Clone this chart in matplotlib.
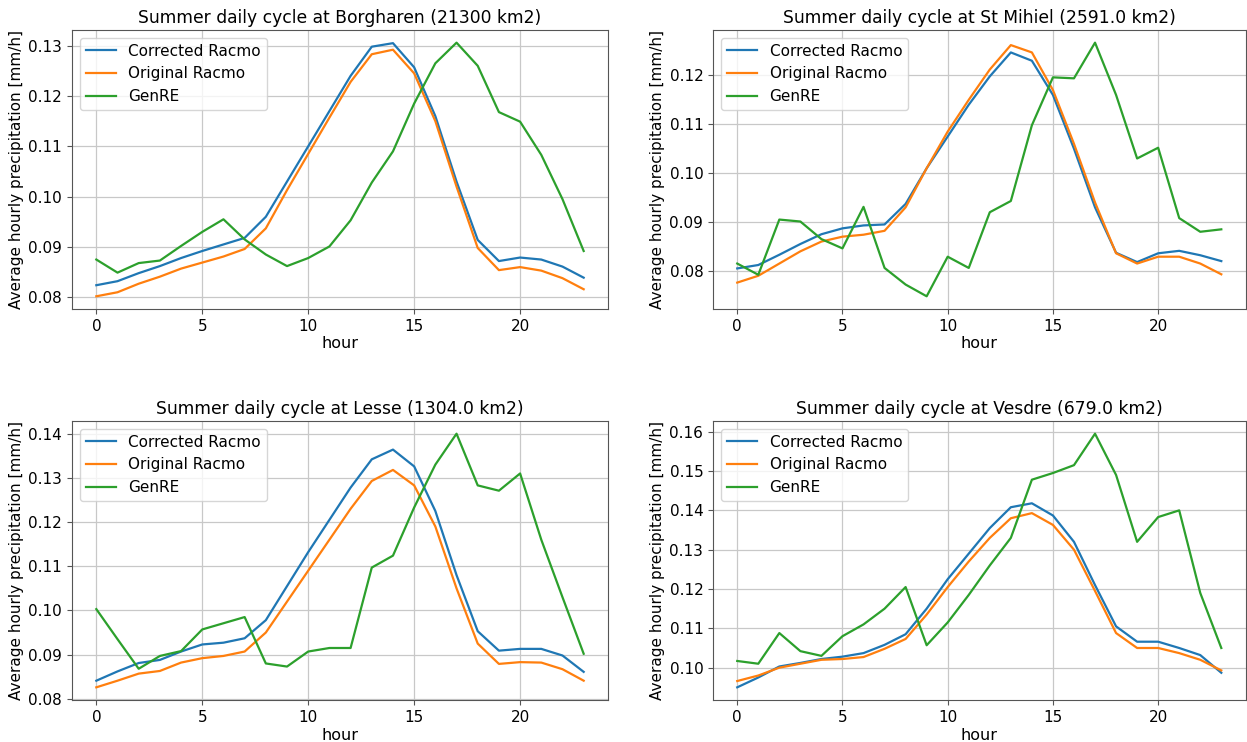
import matplotlib
matplotlib.use("Agg")
import matplotlib.pyplot as plt
import numpy as np

# -------------------------------
# Data
# -------------------------------
hours = np.arange(24)

titles = [
    "Summer daily cycle at Borgharen (21300 km2)",
    "Summer daily cycle at St Mihiel (2591.0 km2)",
    "Summer daily cycle at Lesse (1304.0 km2)",
    "Summer daily cycle at Vesdre (679.0 km2)",
]

borgharen_corrected = [0.0824, 0.0832, 0.0848, 0.0862, 0.0878, 0.0892, 0.0905, 0.0918,
                       0.0960, 0.1030, 0.1100, 0.1170, 0.1240, 0.1298, 0.1305, 0.1257,
                       0.1160, 0.1030, 0.0914, 0.0872, 0.0879, 0.0875, 0.0861, 0.0839]
borgharen_original = [0.0802, 0.0810, 0.0827, 0.0841, 0.0857, 0.0869, 0.0881, 0.0896,
                      0.0937, 0.1013, 0.1085, 0.1157, 0.1228, 0.1283, 0.1292, 0.1245,
                      0.1150, 0.1020, 0.0898, 0.0854, 0.0860, 0.0853, 0.0838, 0.0816]
borgharen_genre = [0.0875, 0.0849, 0.0868, 0.0873, 0.0902, 0.0930, 0.0955, 0.0915,
                   0.0885, 0.0862, 0.0878, 0.0901, 0.0953, 0.1028, 0.1090, 0.1185,
                   0.1265, 0.1306, 0.1260, 0.1168, 0.1149, 0.1083, 0.0995, 0.0892]

mihiel_corrected = [0.0805, 0.0812, 0.0833, 0.0855, 0.0875, 0.0887, 0.0893, 0.0895,
                    0.0937, 0.1010, 0.1075, 0.1140, 0.1198, 0.1247, 0.1230, 0.1160,
                    0.1050, 0.0930, 0.0837, 0.0818, 0.0836, 0.0841, 0.0832, 0.0820]
mihiel_original = [0.0776, 0.0790, 0.0815, 0.0840, 0.0860, 0.0870, 0.0874, 0.0882,
                   0.0930, 0.1010, 0.1085, 0.1150, 0.1212, 0.1262, 0.1247, 0.1170,
                   0.1060, 0.0940, 0.0836, 0.0815, 0.0829, 0.0829, 0.0815, 0.0793]
mihiel_genre = [0.0815, 0.0792, 0.0905, 0.0901, 0.0865, 0.0846, 0.0931, 0.0806,
                0.0772, 0.0748, 0.0829, 0.0806, 0.0920, 0.0943, 0.1098, 0.1196,
                0.1194, 0.1267, 0.1160, 0.1030, 0.1052, 0.0908, 0.0880, 0.0885]

lesse_corrected = [0.0841, 0.0862, 0.0881, 0.0888, 0.0907, 0.0923, 0.0927, 0.0937,
                   0.0978, 0.1055, 0.1132, 0.1205, 0.1278, 0.1342, 0.1364, 0.1326,
                   0.1225, 0.1080, 0.0953, 0.0909, 0.0913, 0.0913, 0.0898, 0.0861]
lesse_original = [0.0826, 0.0841, 0.0857, 0.0863, 0.0882, 0.0892, 0.0897, 0.0907,
                  0.0950, 0.1020, 0.1090, 0.1160, 0.1230, 0.1293, 0.1318, 0.1283,
                  0.1190, 0.1050, 0.0925, 0.0879, 0.0883, 0.0882, 0.0867, 0.0841]
lesse_genre = [0.1003, 0.0935, 0.0868, 0.0897, 0.0908, 0.0957, 0.0971, 0.0985,
               0.0880, 0.0873, 0.0907, 0.0915, 0.0915, 0.1097, 0.1124, 0.1233,
               0.1330, 0.1400, 0.1283, 0.1271, 0.1310, 0.1160, 0.1030, 0.0902]

vesdre_corrected = [0.0950, 0.0975, 0.1003, 0.1012, 0.1022, 0.1028, 0.1037, 0.1058,
                    0.1085, 0.1150, 0.1225, 0.1290, 0.1355, 0.1408, 0.1418, 0.1387,
                    0.1320, 0.1210, 0.1105, 0.1066, 0.1066, 0.1050, 0.1032, 0.0987]
vesdre_original = [0.0966, 0.0980, 0.1000, 0.1010, 0.1020, 0.1022, 0.1027, 0.1048,
                   0.1073, 0.1135, 0.1205, 0.1270, 0.1330, 0.1380, 0.1393, 0.1363,
                   0.1300, 0.1195, 0.1088, 0.1050, 0.1050, 0.1037, 0.1020, 0.0993]
vesdre_genre = [0.1017, 0.1010, 0.1088, 0.1042, 0.1030, 0.1080, 0.1110, 0.1150,
                0.1205, 0.1057, 0.1115, 0.1185, 0.1260, 0.1330, 0.1478, 0.1495,
                0.1515, 0.1595, 0.1490, 0.1320, 0.1383, 0.1400, 0.1190, 0.1050]

series = [
    (borgharen_corrected, borgharen_original, borgharen_genre),
    (mihiel_corrected, mihiel_original, mihiel_genre),
    (lesse_corrected, lesse_original, lesse_genre),
    (vesdre_corrected, vesdre_original, vesdre_genre),
]

# -------------------------------
# Layout
# -------------------------------
FS = 11
fig = plt.figure(figsize=(12.47, 7.42), dpi=100)
positions = [
    [0.0577, 0.5836, 0.4299, 0.3760],
    [0.5718, 0.5836, 0.4270, 0.3760],
    [0.0577, 0.0566, 0.4299, 0.3760],
    [0.5718, 0.0566, 0.4270, 0.3760],
]

for pos, title, (corr, orig, genre) in zip(positions, titles, series):
    ax = fig.add_axes(pos)
    ax.plot(hours, corr, color="tab:blue", lw=1.6, label="Corrected Racmo")
    ax.plot(hours, orig, color="tab:orange", lw=1.6, label="Original Racmo")
    ax.plot(hours, genre, color="tab:green", lw=1.6, label="GenRE")
    ax.set_title(title, fontsize=12.3, pad=5)
    ax.set_xlabel("hour", fontsize=FS + 0.5, labelpad=2)
    ax.set_ylabel("Average hourly precipitation [mm/h]", fontsize=FS, labelpad=3)
    ax.tick_params(labelsize=FS, color="#555555")
    ax.set_xticks([0, 5, 10, 15, 20])
    ax.grid(True, color="#c8c8c8", lw=0.9)
    for sp in ax.spines.values():
        sp.set_color("#555555")
    ax.legend(loc="upper left", fontsize=FS)

plt.savefig("out.png", dpi=100)
